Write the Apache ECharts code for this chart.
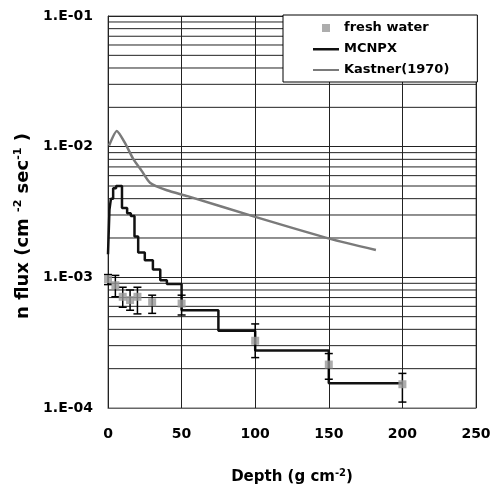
<!DOCTYPE html>
<html>
<head>
<meta charset="utf-8">
<script src="https://cdn.jsdelivr.net/npm/echarts@6/dist/echarts.min.js"></script>
<style>
html,body{margin:0;padding:0;background:#fff;overflow:hidden;}
#chart{width:496px;height:490px;}
</style>
</head>
<body>
<div id="chart"></div>
<script>
// ---- data ----
var xTickLabels = ['0', '50', '100', '150', '200', '250'];
var yTickLabels = ['1.E-04', '1.E-03', '1.E-02', '1.E-01'];

var mcnpxDepth = [0, 1, 2, 3.5, 5.5, 9.5, 13, 15.5, 18, 20.5, 25, 30.5, 35.5, 40, 50, 75, 100, 150, 200];
var mcnpxFlux  = [1.5e-3, 3.3e-3, 4.0e-3, 4.8e-3, 5.0e-3, 3.4e-3, 3.1e-3, 2.95e-3, 2.05e-3, 1.55e-3, 1.35e-3, 1.15e-3, 9.5e-4, 8.9e-4, 5.6e-4, 3.9e-4, 2.75e-4, 1.55e-4, 1.55e-4];

var kastnerDepth = [0.7, 6, 11.5, 17, 23, 28.5, 40, 54, 100, 151, 182];
var kastnerFlux  = [1.02e-2, 1.32e-2, 1.07e-2, 8.1e-3, 6.5e-3, 5.3e-3, 4.64e-3, 4.18e-3, 2.9e-3, 1.97e-3, 1.62e-3];

var fwDepth = [0, 5, 10, 15, 20, 30, 50, 100, 150, 200];
var fwFlux  = [9.7e-4, 8.7e-4, 7.1e-4, 6.7e-4, 7.1e-4, 6.45e-4, 6.3e-4, 3.27e-4, 2.15e-4, 1.52e-4];
var fwLow   = [8.8e-4, 7.1e-4, 5.9e-4, 5.6e-4, 5.25e-4, 5.3e-4, 5.15e-4, 2.43e-4, 1.66e-4, 1.11e-4];
var fwHigh  = [1.05e-3, 1.035e-3, 8.4e-4, 8.0e-4, 8.4e-4, 7.3e-4, 7.3e-4, 4.4e-4, 2.61e-4, 1.84e-4];

var minorMultipliers = [2, 3, 4, 5, 6, 7, 8, 9];
var minorDecades = [1e-4, 1e-3, 1e-2];

// ---- build ----
function zip(a, b) { return a.map(function (v, i) { return [v, b[i]]; }); }
var minorValues = [];
minorDecades.forEach(function (d) {
  minorMultipliers.forEach(function (m) { minorValues.push([m * d]); });
});
var errData = fwDepth.map(function (x, i) { return [x, fwLow[i], fwHigh[i]]; });

var FONT = '"DejaVu Sans", Verdana, sans-serif';
var chart = echarts.init(document.getElementById('chart'), null, { renderer: 'canvas', width: 496, height: 490 });
chart.setOption({
  animation: false,
  backgroundColor: '#fff',
  grid: { left: 108, width: 368, top: 16, height: 396, show: true, borderColor: '#666', borderWidth: 1 },
  legend: {
    orient: 'vertical', left: 283, top: 15,
    padding: [6, 28, 5, 30], itemGap: 7, itemWidth: 26, itemHeight: 14,
    borderColor: '#000', borderWidth: 1, backgroundColor: '#fff',
    textStyle: { fontFamily: FONT, fontWeight: 'bold', fontSize: 13, color: '#000' },
    data: [
      { name: 'fresh water', icon: 'path://M0,0M26,14M9,3h8v8h-8z' },
      { name: 'MCNPX', icon: 'path://M0,0M26,14M0,6h26v2.5h-26z' },
      { name: 'Kastner(1970)', icon: 'path://M0,0M26,14M0,6h26v2h-26z' }
    ]
  },
  xAxis: {
    type: 'value', min: 0, max: 250, interval: 50,
    axisLine: { show: true, lineStyle: { color: '#666' } },
    axisTick: { show: false },
    axisLabel: { margin: 19, fontFamily: FONT, fontWeight: 'bold', fontSize: 14, color: '#000',
      formatter: function (v) { return xTickLabels[Math.round(v / 50)]; } },
    splitLine: { show: true, lineStyle: { color: '#222', width: 1 } },
    name: 'Depth (g cm{sup|-2})', nameLocation: 'middle', nameGap: 60,
    nameTextStyle: { fontFamily: FONT, fontWeight: 'bold', fontSize: 15, color: '#000',
      rich: { sup: { fontFamily: FONT, fontWeight: 'bold', fontSize: 10, color: '#000', padding: [0, 0, 9, 0] } } }
  },
  yAxis: {
    type: 'log', logBase: 10, min: 1e-4, max: 1e-1,
    axisLine: { show: true, lineStyle: { color: '#222' } },
    axisTick: { show: false },
    axisLabel: { margin: 15, fontFamily: FONT, fontWeight: 'bold', fontSize: 14, color: '#000',
      formatter: function (v) { return yTickLabels[Math.round(Math.log10(v)) + 4]; } },
    splitLine: { show: true, lineStyle: { color: '#222', width: 1 } },
    name: 'n flux (cm {sup|-2} sec{sup|-1} )', nameLocation: 'middle', nameGap: 71,
    nameTextStyle: { fontFamily: FONT, fontWeight: 'bold', fontSize: 18, color: '#000', padding: [0, 28, 0, 0],
      rich: { sup: { fontFamily: FONT, fontWeight: 'bold', fontSize: 11, color: '#000', padding: [0, 0, 10, 0] } } }
  },
  series: [
    {
      name: 'minor grid', type: 'custom', data: minorValues, z: 1, silent: true,
      encode: { y: 0 },
      renderItem: function (params, api) {
        var v = api.value(0);
        var a = api.coord([0, v]);
        var b = api.coord([250, v]);
        return { type: 'line', shape: { x1: a[0], y1: a[1], x2: b[0], y2: b[1] },
          style: { stroke: '#222', lineWidth: 1 } };
      }
    },
    {
      name: 'Kastner(1970)', type: 'line', data: zip(kastnerDepth, kastnerFlux), z: 3,
      smooth: 0.2, showSymbol: false, symbol: 'none',
      lineStyle: { color: '#7a7a7a', width: 2.5 }, itemStyle: { color: '#7a7a7a' }
    },
    {
      name: 'MCNPX', type: 'line', step: 'end', data: zip(mcnpxDepth, mcnpxFlux), z: 4,
      showSymbol: false, symbol: 'none',
      lineStyle: { color: '#111', width: 2.5 }, itemStyle: { color: '#111' }
    },
    {
      name: 'errorbars', type: 'custom', data: errData, z: 5,
      encode: { x: 0, y: [1, 2] }, clip: false,
      renderItem: function (params, api) {
        var x = api.value(0);
        var pLo = api.coord([x, api.value(1)]);
        var pHi = api.coord([x, api.value(2)]);
        var w = 4;
        var st = { stroke: '#000', lineWidth: 1.5 };
        return { type: 'group', children: [
          { type: 'line', shape: { x1: pLo[0], y1: pLo[1], x2: pHi[0], y2: pHi[1] }, style: st },
          { type: 'line', shape: { x1: pLo[0] - w, y1: pLo[1], x2: pLo[0] + w, y2: pLo[1] }, style: st },
          { type: 'line', shape: { x1: pHi[0] - w, y1: pHi[1], x2: pHi[0] + w, y2: pHi[1] }, style: st }
        ] };
      }
    },
    {
      name: 'fresh water', type: 'scatter', data: zip(fwDepth, fwFlux), z: 6,
      symbol: 'rect', symbolSize: 8, itemStyle: { color: '#999' }
    }
  ]
});
</script>
</body>
</html>
